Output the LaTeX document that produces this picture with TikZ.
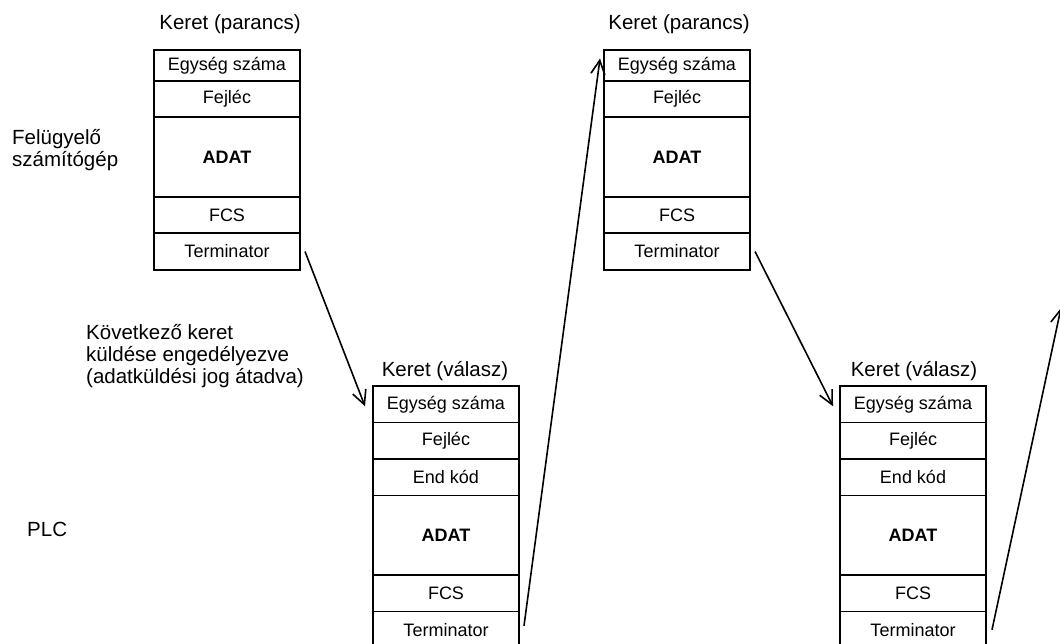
\documentclass[tikz,border=0pt]{standalone}
\usepackage{fontspec}
\setmainfont{Liberation Sans}
\usetikzlibrary{arrows.meta}
\begin{document}
\begin{tikzpicture}[x=1pt,y=-1pt,
  cell/.style={draw, line width=1.5pt, minimum width=146pt, inner sep=0pt, outer sep=0pt,
               font=\fontsize{18}{20}\selectfont},
  lbl/.style={inner sep=0pt, anchor=base, font=\fontsize{20.5}{22}\selectfont},
  side/.style={inner sep=0pt, anchor=base west, font=\fontsize{20.5}{22}\selectfont},
  arr/.style={line width=1.6pt, -{Straight Barb[length=14pt,width=14pt,line width=1.6pt]}}]
\useasboundingbox (0,0) rectangle (1060,644);

% --- first command frame ---
\node[lbl] (k1) at (230,30) {Keret (parancs)};
\node[cell, minimum height=31pt] (a1) at (227,65.5) {Egység száma};
\node[cell, minimum height=36pt] (a2) at (227,99) {Fejléc};
\node[cell, minimum height=80pt] (a3) at (227,157) {\bfseries ADAT};
\node[cell, minimum height=36pt] (a4) at (227,215) {FCS};
\node[cell, minimum height=37pt] (a5) at (227,251.5) {Terminator};

% --- second command frame ---
\node[lbl] (k3) at (679,30) {Keret (parancs)};
\node[cell, minimum height=31pt] (c1) at (677,65.5) {Egység száma};
\node[cell, minimum height=36pt] (c2) at (677,99) {Fejléc};
\node[cell, minimum height=80pt] (c3) at (677,157) {\bfseries ADAT};
\node[cell, minimum height=36pt] (c4) at (677,215) {FCS};
\node[cell, minimum height=37pt] (c5) at (677,251.5) {Terminator};

% --- first response frame ---
\node[lbl] (k2) at (445,376) {Keret (válasz)};
\node[cell, minimum height=36.5pt] (b1) at (446,404.25) {Egység száma};
\node[cell, minimum height=36.5pt] (b2) at (446,440.75) {Fejléc};
\node[cell, minimum height=36.5pt] (b3) at (446,477.25) {End kód};
\node[cell, minimum height=79.5pt] (b4) at (446,535.25) {\bfseries ADAT};
\node[cell, minimum height=36.5pt] (b5) at (446,593.25) {FCS};
\node[cell, minimum height=36.5pt] (b6) at (446,629.75) {Terminator};

% --- second response frame ---
\node[lbl] (k4) at (914,376) {Keret (válasz)};
\node[cell, minimum height=36.5pt] (d1) at (913,404.25) {Egység száma};
\node[cell, minimum height=36.5pt] (d2) at (913,440.75) {Fejléc};
\node[cell, minimum height=36.5pt] (d3) at (913,477.25) {End kód};
\node[cell, minimum height=79.5pt] (d4) at (913,535.25) {\bfseries ADAT};
\node[cell, minimum height=36.5pt] (d5) at (913,593.25) {FCS};
\node[cell, minimum height=36.5pt] (d6) at (913,629.75) {Terminator};

% --- side captions ---
\node[side] (host1) at (12,145) {Felügyelő};
\node[side] (host2) at (12,167) {számítógép};
\node[side] (nx1) at (86,339) {Következő keret};
\node[side] (nx2) at (86,361) {küldése engedélyezve};
\node[side] (nx3) at (86,383) {(adatküldési jog átadva)};
\node[side] (plc) at (27,536) {PLC};

% --- transfer arrows ---
\coordinate (t4) at (1061,308);
\draw[arr] ([xshift=5pt]a5.east) -- ([xshift=-8pt,yshift=-2pt]b1.west);
\draw[arr] ([xshift=5pt,yshift=4pt]b6.east) -- ([xshift=-4pt,yshift=7pt]c1.west);
\draw[arr] ([xshift=5pt]c5.east) -- ([xshift=-7pt,yshift=-2pt]d1.west);
\draw[arr] ([xshift=6pt]d6.east) -- (t4);
\end{tikzpicture}
\end{document}
